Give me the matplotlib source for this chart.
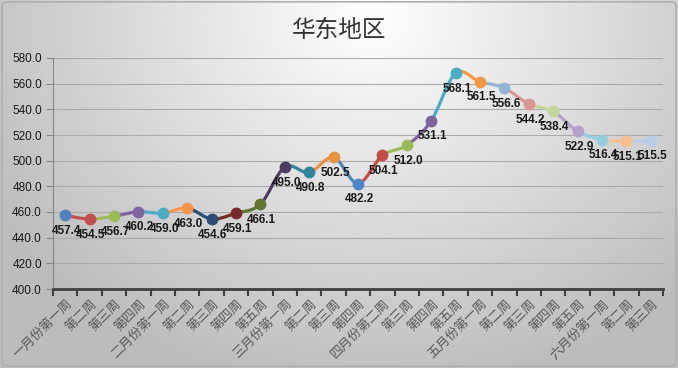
import numpy as np
import matplotlib.pyplot as plt
from matplotlib.patches import FancyBboxPatch

plt.rcParams['font.family'] = ['Noto Sans CJK SC', 'DejaVu Sans']

# data
weeks = ["一月份第一周", "第二周", "第三周", "第四周",
         "二月份第一周", "第二周", "第三周", "第四周", "第五周",
         "三月份第一周", "第二周", "第三周", "第四周",
         "四月份第二周", "第三周", "第四周", "第五周",
         "五月份第一周", "第二周", "第三周", "第四周", "第五周",
         "六月份第一周", "第二周", "第三周"]
prices = [457.4, 454.5, 456.7, 460.2, 459.0, 463.0, 454.6, 459.1, 466.1,
          495.0, 490.8, 502.5, 482.2, 504.1, 512.0, 531.1, 568.1, 561.5,
          556.6, 544.2, 538.4, 522.9, 516.4, 515.1, 515.5]
point_colors = ["#4F81BD", "#C0504D", "#9BBB59", "#8064A2", "#4BACC6", "#F79646",
                "#2C4D75", "#772C2A", "#5F7530", "#4D3B62", "#31859C", "#E9943F",
                "#4F86C6", "#C44D48", "#9BBB59", "#7F63A1", "#4BACC6", "#F79646",
                "#95B3D7", "#D99694", "#C3D69B", "#B3A2C7", "#93CDDD", "#FAC090",
                "#B9CDE5"]
title = "华东地区"

fig = plt.figure(figsize=(6.78, 3.68), dpi=100)

# gradient background
bg = fig.add_axes([0, 0, 1, 1], zorder=0)
gx, gy = np.meshgrid(np.linspace(0, 1, 300), np.linspace(0, 1, 200))
d = np.sqrt(((gx - 0.55) / 0.7) ** 2 + ((gy - 0.95) / 1.1) ** 2)
shade = np.clip(1.0 - 0.28 * d, 0.74, 0.995)
bg.imshow(np.dstack([shade] * 3), extent=[0, 1, 0, 1], origin="lower",
          aspect="auto")
bg.add_patch(FancyBboxPatch((0.003, 0.005), 0.994, 0.99,
                            boxstyle="round,pad=0,rounding_size=0.01",
                            fill=False, ec="#B0B0B0", lw=1.2,
                            transform=bg.transAxes))
bg.set_xlim(0, 1)
bg.set_ylim(0, 1)
bg.axis("off")

ax = fig.add_axes([53 / 678, 1 - 289 / 368, 610 / 678, 231 / 368], zorder=1)
ax.patch.set_alpha(0)

x = np.arange(len(prices))
y = np.array(prices)


def catmull(p0, p1, p2, p3, n=20):
    t = np.linspace(0, 1, n)[:, None]
    return 0.5 * ((2 * p1) + (-p0 + p2) * t + (2 * p0 - 5 * p1 + 4 * p2 - p3) * t ** 2
                  + (-p0 + 3 * p1 - 3 * p2 + p3) * t ** 3)


pts = np.column_stack([x, y])
ext = np.vstack([pts[0], pts, pts[-1]])
for i in range(len(pts) - 1):
    seg = catmull(ext[i], ext[i + 1], ext[i + 2], ext[i + 3])
    ax.plot(seg[:, 0], seg[:, 1], color=point_colors[i + 1], lw=2.3,
            solid_capstyle="round", zorder=2)
for i in range(len(pts)):
    ax.plot(x[i], y[i], "o", color=point_colors[i], ms=7.5, zorder=3)
    ax.annotate(f"{prices[i]:.1f}", (x[i], y[i]), xytext=(1, -7),
                textcoords="offset points", ha="center", va="top",
                fontsize=8.5, fontweight="bold", color="#1A1A1A",
                family=["Liberation Sans", "DejaVu Sans"], zorder=4)

ax.set_xlim(-0.5, len(prices) - 0.5)
ax.set_ylim(400, 580)
ax.set_yticks(np.arange(400, 581, 20))
ax.set_yticklabels([f"{v:.1f}" for v in np.arange(400, 581, 20)],
                   fontsize=8.5, color="#1A1A1A",
                   family=["Liberation Sans", "DejaVu Sans"])
ax.grid(axis="y", color="#ABABAB", lw=0.8)
ax.set_axisbelow(True)

ax.set_xticks(np.arange(-0.5, len(prices), 1))
ax.set_xticklabels([])
ax.tick_params(axis="x", length=5, width=1.5, color="#404040", direction="out")
ax.tick_params(axis="y", length=5, color="#868686", pad=3)
for i, lab in enumerate(weeks):
    ax.text(i + 0.05, 393, lab, rotation=45, ha="right", va="top",
            rotation_mode="anchor", fontsize=9.3, color="#595959",
            transform=ax.transData, clip_on=False)

for s in ["top", "right"]:
    ax.spines[s].set_visible(False)
ax.spines["left"].set_color("#868686")
ax.spines["bottom"].set_color("#404040")
ax.spines["bottom"].set_linewidth(2)

fig.text(0.5, 1 - 30 / 368, title, ha="center", va="center", fontsize=17,
         color="#333333")

fig.savefig("out.png", dpi=100)
